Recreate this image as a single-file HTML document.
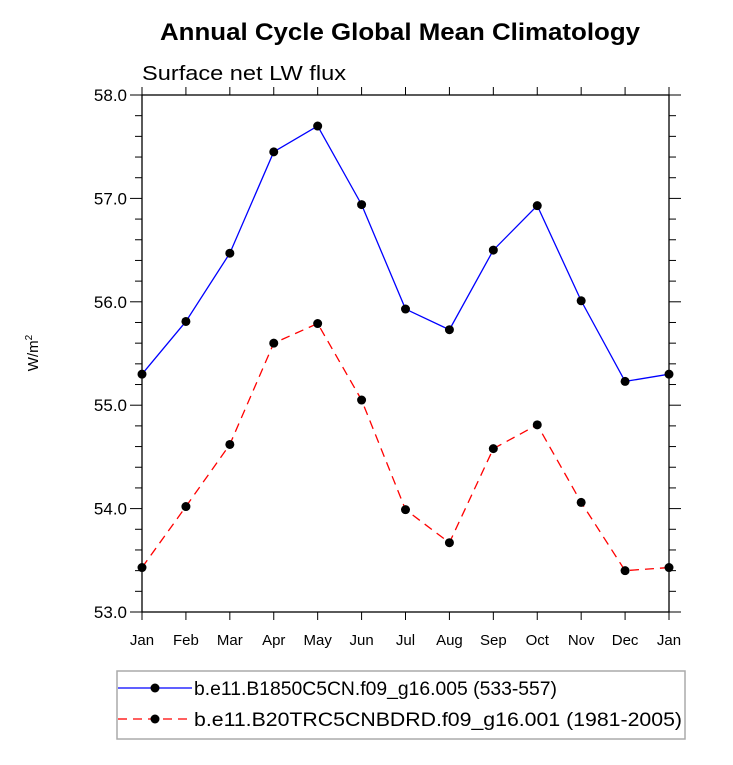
<!DOCTYPE html>
<html><head><meta charset="utf-8"><style>
body{margin:0;background:#fff;}
svg text{font-family:"Liberation Sans",Arial,sans-serif;}
</style></head><body>
<svg id="chart" width="733" height="760" xmlns="http://www.w3.org/2000/svg">
<text x="160" y="40" font-size="24" font-weight="bold" textLength="480" lengthAdjust="spacingAndGlyphs">Annual Cycle Global Mean Climatology</text>
<text x="142" y="80" font-size="20" textLength="204" lengthAdjust="spacingAndGlyphs">Surface net LW flux</text>
<text transform="translate(38,353) rotate(-90)" text-anchor="middle" font-size="15">W/m<tspan dy="-6" font-size="10">2</tspan></text>
<g id="axes"></g>
<g id="series"></g>
<g id="legend">
<rect x="117" y="671" width="568" height="68" fill="#fff" stroke="#aaa" stroke-width="1.5"/>
<g>
<line x1="118" y1="688" x2="192" y2="688" stroke="#00f" stroke-width="1.3"/>
<circle cx="155" cy="688" r="4.5" fill="#000"/>
<text x="194" y="695" font-size="19" textLength="363" lengthAdjust="spacingAndGlyphs">b.e11.B1850C5CN.f09_g16.005 (533-557)</text></g>
<g>
<line x1="118" y1="719" x2="192" y2="719" stroke="#f00" stroke-width="1.3" stroke-dasharray="9,6"/>
<circle cx="155" cy="719" r="4.5" fill="#000"/>
<text x="194" y="726" font-size="19" textLength="488" lengthAdjust="spacingAndGlyphs">b.e11.B20TRC5CNBDRD.f09_g16.001 (1981-2005)</text></g>
</g>
</svg>
<script>
const months=["Jan","Feb","Mar","Apr","May","Jun","Jul","Aug","Sep","Oct","Nov","Dec","Jan"];
const blueValues=[55.30,55.81,56.47,57.45,57.70,56.94,55.93,55.73,56.50,56.93,56.01,55.23,55.30];
const redValues=[53.43,54.02,54.62,55.60,55.79,55.05,53.99,53.67,54.58,54.81,54.06,53.40,53.43];
const yTicks=[53.0,54.0,55.0,56.0,57.0,58.0];
const NS="http://www.w3.org/2000/svg";
const L=142,R=669,T=95,B=612,yMin=53,yMax=58;
function xs(i){return L+(R-L)*i/(months.length-1);}
function ys(v){return B-(v-yMin)/(yMax-yMin)*(B-T);}
function mk(tag,at,parent){const e=document.createElementNS(NS,tag);for(const k in at)e.setAttribute(k,at[k]);parent.appendChild(e);return e;}
const ax=document.getElementById('axes');
const frame=mk('rect',{x:L,y:T,width:R-L,height:B-T,fill:'none',stroke:'#000','stroke-width':1.3},ax);


for(let v=yMin;v<=yMax+1e-9;v+=0.2){
  const major=Math.abs(v-Math.round(v))<1e-6;const len=major?12:7;const y=ys(v);
  mk('line',{x1:L-len,y1:y,x2:L,y2:y,stroke:'#000','stroke-width':1},ax);
  mk('line',{x1:R,y1:y,x2:R+len,y2:y,stroke:'#000','stroke-width':1},ax);
}
yTicks.forEach(v=>{const t=mk('text',{x:L-15,y:ys(v)+6,'text-anchor':'end','font-size':17},ax);t.textContent=v.toFixed(1);

});
months.forEach((m,i)=>{const x=xs(i);
  mk('line',{x1:x,y1:B,x2:x,y2:B+8,stroke:'#000','stroke-width':1},ax);
  mk('line',{x1:x,y1:T-8,x2:x,y2:T,stroke:'#000','stroke-width':1},ax);
  const t=mk('text',{x:x,y:B+33,'text-anchor':'middle','font-size':15},ax);t.textContent=m;
  
  });
const sg=document.getElementById('series');
function draw(vals,color,dash,name){
  const g=mk('g',{},sg);
  
  
  const at={points:vals.map((v,i)=>xs(i)+','+ys(v)).join(' '),fill:'none',stroke:color,'stroke-width':1.3};
  if(dash)at['stroke-dasharray']=dash;
  mk('polyline',at,g);
  vals.forEach((v,i)=>{const c=mk('circle',{cx:xs(i),cy:ys(v),r:4.5,fill:'#000'},g);
    
    });
}
draw(blueValues,'#00f',null,'series-b1850');
draw(redValues,'#f00','9,6','series-b20tr');
</script>
</body></html>
